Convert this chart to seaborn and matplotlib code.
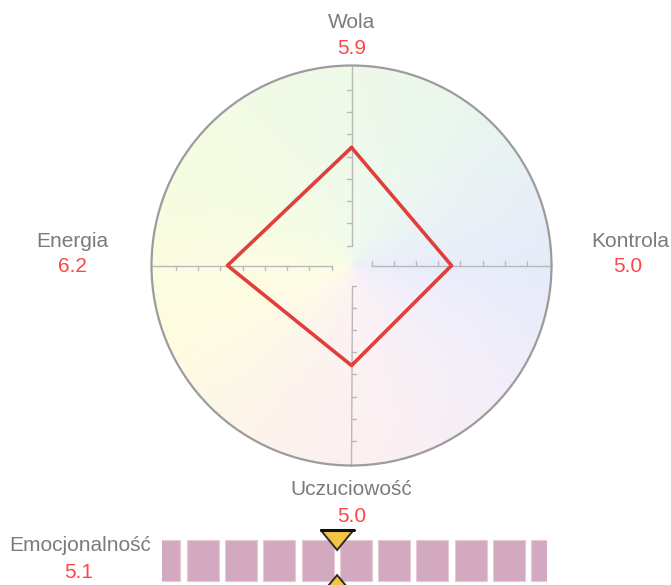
import numpy as np
import pandas as pd
import matplotlib.pyplot as plt
import seaborn as sns
from matplotlib.patches import Circle
from matplotlib.transforms import Bbox

# radar axes: name, direction (degrees), value on a 1..10 scale
axis_names = ["Wola", "Kontrola", "Uczuciowość", "Energia"]
axis_angles = [90, 0, 270, 180]
axis_values = [5.9, 5.0, 5.0, 6.2]
scale_min, scale_max = 1, 10

# bottom strip
strip_name = "Emocjonalność"
strip_value = 5.1

label_grey = "#7b7b7b"
value_red = "#ff4646"
line_red = "#e0403c"

sns.set_theme(style="white")
plt.rcParams['font.family'] = ['Liberation Sans', 'DejaVu Sans']

W, H = 671, 585
fig = plt.figure(figsize=(W / 100, H / 100), dpi=100)
fig.patch.set_facecolor("white")


def box(x0, y0, x1, y1):
    # pixel box with top-left origin -> figure fraction
    return [x0 / W, 1 - y1 / H, (x1 - x0) / W, (y1 - y0) / H]


# ---- radar ----
cx, cy, R = 351.5, 265.5, 200  # R pixels == scale_max units
ax = fig.add_axes(box(cx - 210, cy - 210, cx + 210, cy + 210))
ax.set_xlim(-10.5, 10.5)
ax.set_ylim(-10.5, 10.5)
ax.axis("off")

# soft conic background
g = np.linspace(-scale_max, scale_max, 500)
X, Y = np.meshgrid(g, g)
ang = np.degrees(np.arctan2(Y, X)) % 360
anchors = [0, 60, 150, 200, 250, 280, 330, 360]
cols = np.array([
    [0.90, 0.92, 0.98],   # blue (right)
    [0.92, 0.97, 0.93],   # green (top)
    [0.96, 0.99, 0.88],   # yellow-green
    [1.00, 0.99, 0.88],   # yellow (left)
    [0.99, 0.95, 0.93],   # peach
    [0.99, 0.94, 0.95],   # pink (bottom)
    [0.94, 0.93, 0.98],   # lavender
    [0.90, 0.92, 0.98],
])
img = np.stack([np.interp(ang, anchors, cols[:, k]) for k in range(3)], -1)
r = np.hypot(X, Y) / scale_max
fade = 0.8 + 0.2 * np.clip(r, 0, 1)
img = 1 - (1 - img) * fade[..., None]
circ = Circle((0, 0), scale_max, transform=ax.transData)
im = ax.imshow(img, extent=(-scale_max, scale_max, -scale_max, scale_max),
               origin="lower", interpolation="bilinear", zorder=0)
im.set_clip_path(circ)
ax.add_patch(Circle((0, 0), scale_max, fill=False, ec="#9c9c9c", lw=1.6, zorder=4))

# axis lines with ticks (ticks turn +90 degrees from the axis)
tick_pos = scale_min + np.arange(8) * 10 / 9
tick_len = 0.22
for a in axis_angles:
    t = np.radians(a)
    d = np.array([np.cos(t), np.sin(t)])
    n = np.array([np.cos(t + np.pi / 2), np.sin(t + np.pi / 2)])
    p0, p1 = d * scale_min, d * scale_max
    ax.plot([p0[0], p1[0]], [p0[1], p1[1]], color="#b9b9b9", lw=1, zorder=2)
    for s in tick_pos:
        q = d * s
        ax.plot([q[0], q[0] + n[0] * tick_len], [q[1], q[1] + n[1] * tick_len],
                color="#b9b9b9", lw=1, zorder=2)

# value polygon
rad = np.radians(axis_angles)
df = pd.DataFrame({
    "x": np.array(axis_values) * np.cos(rad),
    "y": np.array(axis_values) * np.sin(rad),
})
df = pd.concat([df, df.iloc[:1]], ignore_index=True)
sns.lineplot(data=df, x="x", y="y", sort=False, estimator=None, ax=ax,
             color=line_red, lw=2.6, zorder=5)
ax.set_xlabel("")
ax.set_ylabel("")

# labels (offsets in radar units)
label_pos = {
    "Wola": ((0, 11.9), (0, 10.55)),
    "Kontrola": ((13.95, 0.94), (13.8, -0.31)),
    "Uczuciowość": ((0, -11.48), (0, -12.81)),
    "Energia": ((-13.95, 0.94), (-13.95, -0.31)),
}
for name, val in zip(axis_names, axis_values):
    (lx, ly), (vx, vy) = label_pos[name]
    ax.text(lx, ly, name, ha="center", va="baseline", fontsize=15,
            color=label_grey, clip_on=False)
    ax.text(vx, vy, f"{val:.1f}", ha="center", va="baseline", fontsize=15,
            color=value_red, clip_on=False)

# ---- bottom strip ----
px_per_unit = (547 - 161.5) / (scale_max - scale_min)
sx = fig.add_axes(box(161.5, 530, 547, 585))
sx.set_xlim(scale_min, scale_max)
sx.set_ylim(0, 1)
sx.axis("off")

cell_w = 32 / px_per_unit
cell_step = 38.3 / px_per_unit
cell_left = scale_min + (148.4 - 161.5) / px_per_unit
lefts = cell_left + np.arange(11) * cell_step
sx.bar(lefts, 0.745, width=cell_w, bottom=0.073, align="edge",
       color="#d3a9c0", edgecolor="#e6cad8", lw=0.8, zorder=1)

hw = 16.5 / px_per_unit
sx.fill([strip_value - hw, strip_value + hw, strip_value], [1.0, 1.0, 0.636],
        color="#f6c445", ec="#2b2b2b", lw=1.4, zorder=3, clip_on=False)
sx.plot([strip_value - hw, strip_value + hw], [1.0, 1.0], color="#111111",
        lw=2.2, zorder=4, clip_on=False)
sx.fill([strip_value - hw, strip_value + hw, strip_value], [-0.18, -0.18, 0.18],
        color="#f6c445", ec="#2b2b2b", lw=1.4, zorder=3, clip_on=False)

t = fig.text(9 / W, 1 - 551 / H, strip_name, ha="left", va="baseline",
             fontsize=15, color=label_grey)
t.set_clip_box(Bbox([[0, 0], [150, H]]))
t.set_clip_on(True)
fig.text(79 / W, 1 - 578 / H, f"{strip_value:.1f}", ha="center", va="baseline",
         fontsize=15, color=value_red)

fig.savefig("out.png", dpi=100, facecolor="white")
